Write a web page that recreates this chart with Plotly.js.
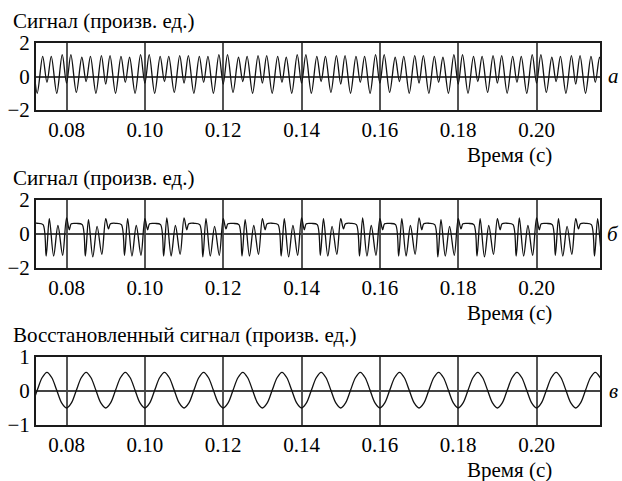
<!DOCTYPE html>
<html>
<head>
<meta charset="utf-8">
<script src="https://cdn.plot.ly/plotly-3.0.1.min.js"></script>
<style>
html,body{margin:0;padding:0;background:#fff;}
#chart{width:622px;height:481px;}
</style>
</head>
<body>
<div id="chart"></div>
<script>
// ---- Data ----
const xTickVals = [0.08, 0.10, 0.12, 0.14, 0.16, 0.18, 0.20];
const xTickText = ['0.08', '0.10', '0.12', '0.14', '0.16', '0.18', '0.20'];
const yTickValsAB = [-2, 0, 2];
const yTickTextAB = ['\u22122', '0', '2'];
const yTickValsC = [-1, 0, 1];
const yTickTextC = ['\u22121', '0', '1'];

const titleA = 'Сигнал (произв. ед.)';
const titleB = 'Сигнал (произв. ед.)';
const titleC = 'Восстановленный сигнал (произв. ед.)';
const xLabel = 'Время (с)';
const panelLetters = ['а', 'б', 'в'];

// Signal (a): extremes of the waveform
const tA = [
0.0689,0.0700,0.0711,0.0725,0.0739,0.0750,0.0761,0.0775,
0.0789,0.0800,0.0811,0.0825,0.0839,0.0850,0.0861,0.0875,
0.0889,0.0900,0.0911,0.0925,0.0939,0.0950,0.0961,0.0975,
0.0989,0.1000,0.1011,0.1025,0.1039,0.1050,0.1061,0.1075,
0.1089,0.1100,0.1111,0.1125,0.1139,0.1150,0.1161,0.1175,
0.1189,0.1200,0.1211,0.1225,0.1239,0.1250,0.1261,0.1275,
0.1289,0.1300,0.1311,0.1325,0.1339,0.1350,0.1361,0.1375,
0.1389,0.1400,0.1411,0.1425,0.1439,0.1450,0.1461,0.1475,
0.1489,0.1500,0.1511,0.1525,0.1539,0.1550,0.1561,0.1575,
0.1589,0.1600,0.1611,0.1625,0.1639,0.1650,0.1661,0.1675,
0.1689,0.1700,0.1711,0.1725,0.1739,0.1750,0.1761,0.1775,
0.1789,0.1800,0.1811,0.1825,0.1839,0.1850,0.1861,0.1875,
0.1889,0.1900,0.1911,0.1925,0.1939,0.1950,0.1961,0.1975,
0.1989,0.2000,0.2011,0.2025,0.2039,0.2050,0.2061,0.2075,
0.2089,0.2100,0.2111,0.2125,0.2139,0.2150,0.2161,0.2175,
0.2189,0.2200];
const yA = [
1.20,-0.40,1.25,-1.00,1.20,-0.35,1.20,-1.00,
1.30,-0.40,1.30,-0.95,1.15,-0.30,1.20,-1.00,
1.25,-0.45,1.25,-1.00,1.20,-0.35,1.15,-1.00,
1.30,-0.40,1.30,-1.00,1.20,-0.30,1.20,-0.95,
1.25,-0.40,1.25,-1.00,1.20,-0.35,1.20,-1.00,
1.30,-0.45,1.30,-0.95,1.15,-0.30,1.20,-1.00,
1.25,-0.40,1.25,-1.00,1.20,-0.35,1.15,-1.00,
1.30,-0.40,1.30,-1.00,1.20,-0.30,1.20,-0.95,
1.25,-0.45,1.25,-1.00,1.20,-0.35,1.20,-1.00,
1.30,-0.40,1.30,-0.95,1.15,-0.30,1.20,-1.00,
1.25,-0.40,1.25,-1.00,1.20,-0.35,1.15,-1.00,
1.30,-0.45,1.30,-1.00,1.20,-0.30,1.20,-0.95,
1.25,-0.40,1.25,-1.00,1.20,-0.35,1.20,-1.00,
1.30,-0.40,1.30,-0.95,1.15,-0.30,1.20,-1.00,
1.25,-0.45,1.25,-1.00,1.20,-0.35,1.15,-1.00,
1.30,-0.40];

// Signal (б): distorted waveform with flat tops
const tB = [
0.0690,0.0700,0.0707,0.0712,0.0726,0.0740,0.0748,0.0756,0.0767,0.0778,
0.0790,0.0800,0.0807,0.0812,0.0826,0.0840,0.0848,0.0856,0.0867,0.0878,
0.0890,0.0900,0.0907,0.0912,0.0926,0.0940,0.0948,0.0956,0.0967,0.0978,
0.0990,0.1000,0.1007,0.1012,0.1026,0.1040,0.1048,0.1056,0.1067,0.1078,
0.1090,0.1100,0.1107,0.1112,0.1126,0.1140,0.1148,0.1156,0.1167,0.1178,
0.1190,0.1200,0.1207,0.1212,0.1226,0.1240,0.1248,0.1256,0.1267,0.1278,
0.1290,0.1300,0.1307,0.1312,0.1326,0.1340,0.1348,0.1356,0.1367,0.1378,
0.1390,0.1400,0.1407,0.1412,0.1426,0.1440,0.1448,0.1456,0.1467,0.1478,
0.1490,0.1500,0.1507,0.1512,0.1526,0.1540,0.1548,0.1556,0.1567,0.1578,
0.1590,0.1600,0.1607,0.1612,0.1626,0.1640,0.1648,0.1656,0.1667,0.1678,
0.1690,0.1700,0.1707,0.1712,0.1726,0.1740,0.1748,0.1756,0.1767,0.1778,
0.1790,0.1800,0.1807,0.1812,0.1826,0.1840,0.1848,0.1856,0.1867,0.1878,
0.1890,0.1900,0.1907,0.1912,0.1926,0.1940,0.1948,0.1956,0.1967,0.1978,
0.1990,0.2000,0.2007,0.2012,0.2026,0.2040,0.2048,0.2056,0.2067,0.2078,
0.2090,0.2100,0.2107,0.2112,0.2126,0.2140,0.2148,0.2156,0.2167,0.2178,
0.2190,0.2200];
const yB = [
-1.20,0.90,0.25,0.60,0.63,0.55,-1.30,0.90,-1.30,0.50,
-1.25,0.95,0.25,0.60,0.62,0.55,-1.30,0.85,-1.35,0.45,
-1.20,0.90,0.30,0.60,0.63,0.55,-1.25,0.90,-1.30,0.50,
-1.25,0.90,0.25,0.60,0.62,0.55,-1.30,0.95,-1.30,0.50,
-1.20,0.95,0.25,0.60,0.63,0.55,-1.35,0.90,-1.30,0.45,
-1.25,0.90,0.30,0.60,0.62,0.55,-1.30,0.85,-1.30,0.50,
-1.20,0.90,0.25,0.60,0.63,0.55,-1.30,0.90,-1.35,0.50,
-1.25,0.95,0.25,0.60,0.62,0.55,-1.25,0.90,-1.30,0.45,
-1.20,0.90,0.30,0.60,0.63,0.55,-1.30,0.95,-1.30,0.50,
-1.25,0.90,0.25,0.60,0.62,0.55,-1.30,0.90,-1.30,0.50,
-1.20,0.95,0.25,0.60,0.63,0.55,-1.35,0.85,-1.30,0.45,
-1.25,0.90,0.30,0.60,0.62,0.55,-1.30,0.90,-1.35,0.50,
-1.20,0.90,0.25,0.60,0.63,0.55,-1.30,0.95,-1.30,0.50,
-1.25,0.95,0.25,0.60,0.62,0.55,-1.25,0.90,-1.30,0.45,
-1.20,0.90,0.30,0.60,0.63,0.55,-1.30,0.90,-1.30,0.50,
-1.25,0.90];

// Reconstructed signal (в)
const tC = [
0.07,0.07125,0.0725,0.07375,0.075,0.07625,0.0775,0.07875,
0.08,0.08125,0.0825,0.08375,0.085,0.08625,0.0875,0.08875,
0.09,0.09125,0.0925,0.09375,0.095,0.09625,0.0975,0.09875,
0.10,0.10125,0.1025,0.10375,0.105,0.10625,0.1075,0.10875,
0.11,0.11125,0.1125,0.11375,0.115,0.11625,0.1175,0.11875,
0.12,0.12125,0.1225,0.12375,0.125,0.12625,0.1275,0.12875,
0.13,0.13125,0.1325,0.13375,0.135,0.13625,0.1375,0.13875,
0.14,0.14125,0.1425,0.14375,0.145,0.14625,0.1475,0.14875,
0.15,0.15125,0.1525,0.15375,0.155,0.15625,0.1575,0.15875,
0.16,0.16125,0.1625,0.16375,0.165,0.16625,0.1675,0.16875,
0.17,0.17125,0.1725,0.17375,0.175,0.17625,0.1775,0.17875,
0.18,0.18125,0.1825,0.18375,0.185,0.18625,0.1875,0.18875,
0.19,0.19125,0.1925,0.19375,0.195,0.19625,0.1975,0.19875,
0.20,0.20125,0.2025,0.20375,0.205,0.20625,0.2075,0.20875,
0.21,0.21125,0.2125,0.21375,0.215,0.21625,0.2175,0.21875,
0.22];
const yC = [
-0.50,-0.35,0.02,0.39,0.55,0.39,0.02,-0.35,
-0.50,-0.35,0.02,0.39,0.55,0.39,0.02,-0.35,
-0.50,-0.35,0.02,0.39,0.55,0.39,0.02,-0.35,
-0.50,-0.35,0.02,0.39,0.55,0.39,0.02,-0.35,
-0.50,-0.35,0.02,0.39,0.55,0.39,0.02,-0.35,
-0.50,-0.35,0.02,0.39,0.55,0.39,0.02,-0.35,
-0.50,-0.35,0.02,0.39,0.55,0.39,0.02,-0.35,
-0.50,-0.35,0.02,0.39,0.55,0.39,0.02,-0.35,
-0.50,-0.35,0.02,0.39,0.55,0.39,0.02,-0.35,
-0.50,-0.35,0.02,0.39,0.55,0.39,0.02,-0.35,
-0.50,-0.35,0.02,0.39,0.55,0.39,0.02,-0.35,
-0.50,-0.35,0.02,0.39,0.55,0.39,0.02,-0.35,
-0.50,-0.35,0.02,0.39,0.55,0.39,0.02,-0.35,
-0.50,-0.35,0.02,0.39,0.55,0.39,0.02,-0.35,
-0.50,-0.35,0.02,0.39,0.55,0.39,0.02,-0.35,
-0.50];

// ---- Styling ----
const W = 622, H = 481;
const FONT = 'serif';
const INK = '#000';
const px = v => v / W;
const py = v => 1 - v / H;

const plotL = 36, plotR = 600;
const panels = [
  {top: 43, bottom: 110, range: [-2, 2], tv: yTickValsAB, tt: yTickTextAB, t: tA, y: yA, title: titleA},
  {top: 200, bottom: 268, range: [-2, 2], tv: yTickValsAB, tt: yTickTextAB, t: tB, y: yB, title: titleB},
  {top: 357, bottom: 425, range: [-1.0, 1.0], tv: yTickValsC, tt: yTickTextC, t: tC, y: yC, title: titleC}
];

const traces = [];
const layout = {
  width: W, height: H,
  margin: {l: 0, r: 0, t: 0, b: 0},
  paper_bgcolor: '#fff', plot_bgcolor: '#fff',
  showlegend: false,
  annotations: []
};

panels.forEach((p, i) => {
  const n = i === 0 ? '' : String(i + 1);
  traces.push({
    type: 'scatter', mode: 'lines', x: p.t, y: p.y,
    xaxis: 'x' + n, yaxis: 'y' + n,
    line: {color: '#111', width: 1.3, shape: 'spline', smoothing: 0.9},
    hoverinfo: 'skip'
  });
  layout['xaxis' + n] = {
    domain: [px(plotL), px(plotR)], anchor: 'y' + n,
    range: [0.0722, 0.2162],
    tickmode: 'array', tickvals: xTickVals, ticktext: xTickText,
    showgrid: true, gridcolor: '#555', gridwidth: 2,
    zeroline: false, showline: true, mirror: true, linecolor: '#1a1a1a', linewidth: 2,
    ticks: '', tickfont: {family: FONT, size: 21, color: INK}
  };
  layout['yaxis' + n] = {
    domain: [py(p.bottom), py(p.top)], anchor: 'x' + n,
    range: p.range, tickmode: 'array', tickvals: p.tv, ticktext: p.tt,
    showgrid: false, zeroline: true, zerolinecolor: '#444', zerolinewidth: 2,
    showline: true, mirror: true, linecolor: '#1a1a1a', linewidth: 2,
    ticks: '', tickfont: {family: FONT, size: 21, color: INK}
  };
  layout.annotations.push({
    xref: 'paper', yref: 'paper', x: px(11), y: py(p.top - 22),
    xanchor: 'left', yanchor: 'middle', showarrow: false,
    text: p.title, font: {family: FONT, size: 21, color: INK}
  });
  layout.annotations.push({
    xref: 'paper', yref: 'paper', x: px(554), y: py(p.bottom + 45),
    xanchor: 'right', yanchor: 'middle', showarrow: false,
    text: xLabel, font: {family: FONT, size: 21, color: INK}
  });
  layout.annotations.push({
    xref: 'paper', yref: 'paper', x: px(613), y: py((p.top + p.bottom) / 2),
    xanchor: 'center', yanchor: 'middle', showarrow: false,
    text: '<i>' + panelLetters[i] + '</i>', font: {family: FONT, size: 21, color: INK}
  });
});

Plotly.newPlot('chart', traces, layout, {staticPlot: true, displayModeBar: false});
</script>
</body>
</html>
